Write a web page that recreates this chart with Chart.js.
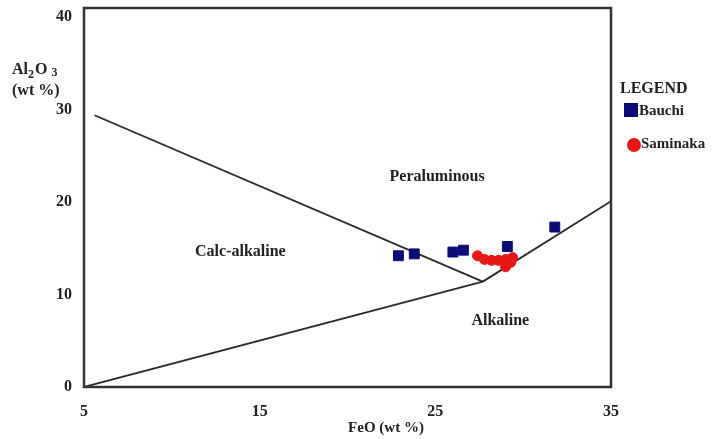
<!DOCTYPE html>
<html><head><meta charset="utf-8">
<script src="https://cdn.jsdelivr.net/npm/chart.js@4.4.0/dist/chart.umd.min.js"></script>
<style>html,body{margin:0;padding:0;background:#fff}#wrap{width:717px;height:439px}</style>
</head><body><div id="wrap"><canvas id="c" width="717" height="439"></canvas></div>
<script>
const xTicks = [5, 15, 25, 35];
const yTicks = [0, 10, 20, 30, 40];
const bauchiFeO = [22.9, 23.8, 26.0, 26.6, 29.1, 31.8];
const bauchiAl2O3 = [14.2, 14.4, 14.6, 14.8, 15.2, 17.3];
const saminakaFeO = [27.4, 27.8, 28.2, 28.6, 29.0, 29.4, 29.3, 29.0];
const saminakaAl2O3 = [14.2, 13.8, 13.7, 13.7, 13.8, 14.0, 13.5, 13.0];
const lineCalcPeraX = [5.6, 27.7];
const lineCalcPeraY = [29.4, 11.4];
const lineLowerX = [5, 27.7];
const lineLowerY = [0, 11.4];
const lineUpperX = [27.7, 35];
const lineUpperY = [11.4, 20.1];
const fieldLabels = ['Peraluminous', 'Calc-alkaline', 'Alkaline'];
const fieldX = [25.1, 13.9, 28.7];
const fieldY = [22.7, 14.6, 7.2];

const pts = (xs, ys) => xs.map((x, i) => ({x: x, y: ys[i]}));
const serif = '"Liberation Serif", "DejaVu Serif", serif';
const lineStyle = {type: 'line', borderColor: '#2a2a2a', borderWidth: 1.8, pointRadius: 0, showLine: true, fill: false};

const extras = {
  id: 'extras',
  afterDraw(chart) {
    const ctx = chart.ctx, a = chart.chartArea, xs = chart.scales.x, ys = chart.scales.y;
    ctx.save();
    ctx.strokeStyle = '#333';
    ctx.lineWidth = 2.5;
    ctx.strokeRect(a.left, a.top, a.right - a.left, a.bottom - a.top);
    ctx.fillStyle = '#222';
    ctx.font = 'bold 16px ' + serif;
    ctx.textAlign = 'center';
    ctx.textBaseline = 'middle';
    fieldLabels.forEach((t, i) => ctx.fillText(t, xs.getPixelForValue(fieldX[i]), ys.getPixelForValue(fieldY[i])));
    // axis titles
    ctx.font = 'bold 15px ' + serif;
    ctx.fillText('FeO (wt %)', 386, 428);
    ctx.textAlign = 'left';
    ctx.font = 'bold 16px ' + serif;
    ctx.fillText('Al', 12, 70);
    let w = ctx.measureText('Al').width;
    ctx.font = 'bold 12px ' + serif;
    ctx.fillText('2', 12 + w, 75);
    let w2 = ctx.measureText('2').width;
    ctx.font = 'bold 16px ' + serif;
    ctx.fillText('O', 12 + w + w2 + 1, 70);
    let w3 = ctx.measureText('O').width;
    ctx.font = 'bold 12px ' + serif;
    ctx.fillText('3', 12 + w + w2 + w3 + 5, 73);
    ctx.font = 'bold 16px ' + serif;
    ctx.fillText('(wt %)', 12, 91);
    // legend
    ctx.fillText('LEGEND', 620, 89);
    ctx.fillStyle = chart.data.datasets[0].backgroundColor;
    ctx.fillRect(624, 103, 14, 14);
    ctx.fillStyle = '#222';
    ctx.font = 'bold 15px ' + serif;
    ctx.fillText('Bauchi', 639, 111);
    ctx.fillStyle = chart.data.datasets[1].backgroundColor;
    ctx.beginPath(); ctx.arc(634, 145, 7, 0, Math.PI * 2); ctx.fill();
    ctx.fillStyle = '#222';
    ctx.fillText('Saminaka', 641, 144);
    ctx.restore();
  }
};

new Chart(document.getElementById('c'), {
  type: 'scatter',
  data: {
    datasets: [
      {label: 'Bauchi', data: pts(bauchiFeO, bauchiAl2O3), backgroundColor: '#0c0c78', borderColor: '#0c0c78', pointStyle: 'rect', pointRadius: 7, order: 0},
      {label: 'Saminaka', data: pts(saminakaFeO, saminakaAl2O3), backgroundColor: '#e81818', borderColor: '#e81818', pointStyle: 'circle', pointRadius: 5, order: 1},
      Object.assign({label: 'b1', data: pts(lineCalcPeraX, lineCalcPeraY), order: 2}, lineStyle),
      Object.assign({label: 'b2', data: pts(lineLowerX, lineLowerY), order: 2}, lineStyle),
      Object.assign({label: 'b3', data: pts(lineUpperX, lineUpperY), order: 2}, lineStyle)
    ]
  },
  options: {
    responsive: false,
    animation: false,
    devicePixelRatio: 1,
    layout: {padding: {top: 8, right: 106, left: 0, bottom: 0}},
    plugins: {legend: {display: false}, tooltip: {enabled: false}},
    scales: {
      x: {
        type: 'linear', min: 5, max: 35,
        afterBuildTicks: s => { s.ticks = xTicks.map(v => ({value: v})); },
        afterFit: s => { s.height = 52; s.paddingLeft = 0; s.paddingRight = 0; },
        grid: {display: false, drawTicks: false},
        border: {display: false},
        ticks: {color: '#222', font: {family: serif, size: 16, weight: 'bold'}, padding: 15, maxRotation: 0}
      },
      y: {
        type: 'linear', min: 0, max: 41,
        afterBuildTicks: s => { s.ticks = yTicks.map(v => ({value: v})); },
        afterFit: s => { s.width = 84; s.paddingTop = 0; s.paddingBottom = 0; },
        grid: {display: false, drawTicks: false},
        border: {display: false},
        ticks: {color: '#222', font: {family: serif, size: 16, weight: 'bold'}, padding: 12}
      }
    }
  },
  plugins: [extras]
});
</script></body></html>
